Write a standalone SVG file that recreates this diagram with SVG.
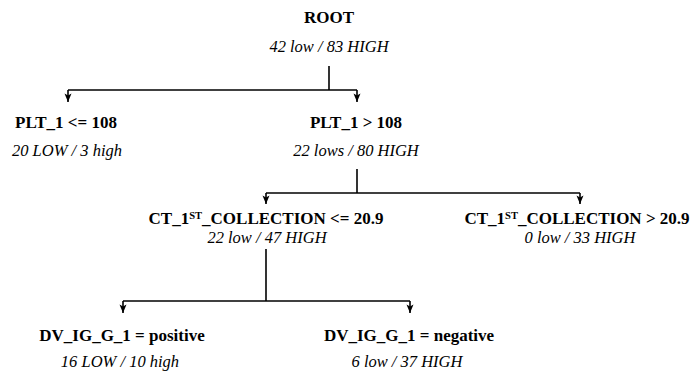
<svg xmlns="http://www.w3.org/2000/svg" width="692" height="376" viewBox="0 0 692 376">
<style>
.t{font-family:'Liberation Serif','Times New Roman',serif;font-size:17px;font-weight:bold;fill:#000;text-anchor:middle}
.s{font-family:'Liberation Serif','Times New Roman',serif;font-size:16.5px;font-style:italic;fill:#000;text-anchor:middle}
.sup{font-size:10.5px}
.c{fill:none;stroke:#000;stroke-width:1.6}
</style>
<defs>
<marker id="ah" markerWidth="10" markerHeight="8" refX="9" refY="4" orient="auto" markerUnits="userSpaceOnUse">
<path d="M0.5,0.5 L9,4 L0.5,7.5 L2.5,4 Z" fill="#000"/>
</marker>
</defs>
<rect width="692" height="376" fill="#fff"/>
<g id="connectors">
<path class="c" d="M329,66 V90"/>
<path class="c" d="M68,90 H357"/>
<path class="c" d="M68,90 V102" marker-end="url(#ah)"/>
<path class="c" d="M357,90 V102" marker-end="url(#ah)"/>
<path class="c" d="M357,169 V193"/>
<path class="c" d="M266,193 H580"/>
<path class="c" d="M266,193 V204" marker-end="url(#ah)"/>
<path class="c" d="M580,193 V204" marker-end="url(#ah)"/>
<path class="c" d="M266,249 V301"/>
<path class="c" d="M123,301 H410"/>
<path class="c" d="M123,301 V313" marker-end="url(#ah)"/>
<path class="c" d="M410,301 V313" marker-end="url(#ah)"/>
</g>
<g id="root">
<text class="t" x="329" y="23">ROOT</text>
<text class="s" x="329" y="52">42 low / 83 HIGH</text>
</g>
<g id="plt-le">
<text class="t" x="66" y="128">PLT_1 &lt;= 108</text>
<text class="s" x="67" y="156">20 LOW / 3 high</text>
</g>
<g id="plt-gt">
<text class="t" x="356" y="128">PLT_1 &gt; 108</text>
<text class="s" x="356" y="156">22 lows / 80 HIGH</text>
</g>
<g id="ct-le">
<text class="t" x="266" y="224">CT_1<tspan class="sup" dy="-5">ST</tspan><tspan dy="5">_COLLECTION &lt;= 20.9</tspan></text>
<text class="s" x="267" y="243">22 low / 47 HIGH</text>
</g>
<g id="ct-gt">
<text class="t" x="577" y="224">CT_1<tspan class="sup" dy="-5">ST</tspan><tspan dy="5">_COLLECTION &gt; 20.9</tspan></text>
<text class="s" x="580" y="243">0 low / 33 HIGH</text>
</g>
<g id="dv-pos">
<text class="t" x="122" y="341">DV_IG_G_1 = positive</text>
<text class="s" x="120" y="367">16 LOW / 10 high</text>
</g>
<g id="dv-neg">
<text class="t" x="409" y="341">DV_IG_G_1 = negative</text>
<text class="s" x="407" y="367">6 low / 37 HIGH</text>
</g>
</svg>
